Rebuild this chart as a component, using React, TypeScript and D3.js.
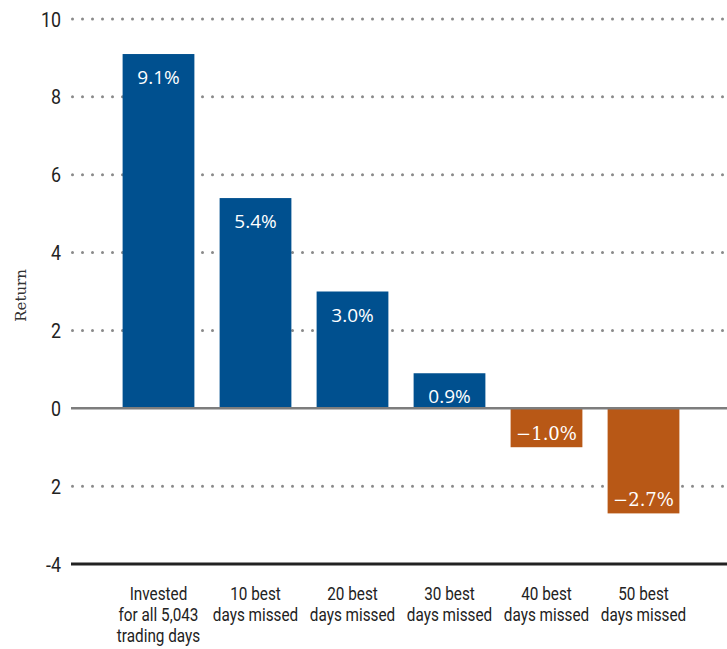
import React from "react";
import * as d3 from "d3";

const categories: string[][] = [
  ["Invested", "for all 5,043", "trading days"],
  ["10 best", "days missed"],
  ["20 best", "days missed"],
  ["30 best", "days missed"],
  ["40 best", "days missed"],
  ["50 best", "days missed"],
];
const values: number[] = [9.1, 5.4, 3.0, 0.9, -1.0, -2.7];
const valueLabels: string[] = ["9.1%", "5.4%", "3.0%", "0.9%", "\u22121.0%", "\u22122.7%"];
const tickValues: number[] = [10, 8, 6, 4, 2, 0, -2, -4];
const tickLabels: string[] = ["10", "8", "6", "4", "2", "0", "2", "-4"];

const W = 727;
const H = 649;
const BLUE = "#00508f";
const ORANGE = "#b85816";
const sans = "Roboto, 'Liberation Sans', sans-serif";

export default function App() {
  const y = d3.scaleLinear().domain([-4, 10]).range([564, 19]);
  const x = d3
    .scaleBand<number>()
    .domain(d3.range(categories.length))
    .range([110, 692])
    .paddingInner(0.26)
    .paddingOuter(0.13);
  const gridX0 = 71;
  const gridX1 = W;

  return (
    <svg
      width={W}
      height={H}
      style={{ position: "absolute", left: 0, top: 0, background: "#fff" }}
    >
      {tickValues
        .filter((t) => t !== 0 && t !== -4)
        .map((t) => (
          <line
            key={"g" + t}
            x1={gridX0 + 1.5}
            x2={gridX1}
            y1={y(t)}
            y2={y(t)}
            stroke="#8a8a8a"
            strokeWidth={3}
            strokeDasharray="0 10"
            strokeLinecap="round"
          />
        ))}
      {tickValues.map((t, i) => (
        <text
          key={"t" + t}
          transform={`translate(61,${y(t)}) scale(0.85,1)`}
          dy="0.36em"
          textAnchor="end"
          fontFamily={sans}
          fontSize={21}
          fill="#222"
        >
          {tickLabels[i]}
        </text>
      ))}
      <text
        transform={`translate(26,${y(2.9)}) rotate(-90)`}
        textAnchor="middle"
        fontFamily="'DejaVu Serif', 'Liberation Serif', serif"
        fontSize={15}
        fill="#333"
      >
        Return
      </text>
      {values.map((v, i) => (
        <rect
          key={"b" + i}
          x={x(i)}
          width={x.bandwidth()}
          y={Math.min(y(v), y(0))}
          height={Math.abs(y(v) - y(0))}
          fill={v >= 0 ? BLUE : ORANGE}
        />
      ))}
      <line x1={gridX0} x2={gridX1} y1={y(0)} y2={y(0)} stroke="#7d7d7d" strokeWidth={2.5} />
      <line x1={gridX0} x2={gridX1} y1={y(-4)} y2={y(-4)} stroke="#222" strokeWidth={3} />
      {values.map((v, i) => (
        <text
          key={"l" + i}
          x={(x(i) as number) + x.bandwidth() / 2}
          y={v >= 0 ? y(v) + 30 : y(v) - 7}
          textAnchor="middle"
          fontFamily={v >= 0 ? "'Open Sans', 'Liberation Sans', sans-serif" : "'DejaVu Serif', serif"}
          fontSize={v >= 0 ? 19 : 18}
          fill="#fff"
        >
          {valueLabels[i]}
        </text>
      ))}
      {categories.map((lines, i) =>
        lines.map((ln, j) => (
          <text
            key={"c" + i + "-" + j}
            transform={`translate(${(x(i) as number) + x.bandwidth() / 2},${600 + j * 21}) scale(0.85,1)`}
            textAnchor="middle"
            fontFamily={sans}
            fontSize={18}
            fill="#222"
          >
            {ln}
          </text>
        ))
      )}
    </svg>
  );
}
